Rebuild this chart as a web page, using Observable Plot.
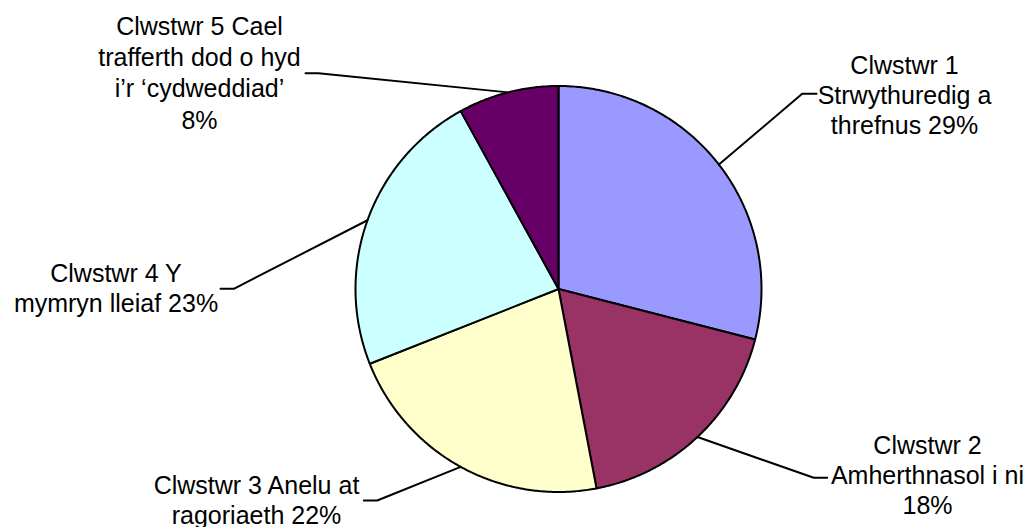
<!DOCTYPE html>
<html>
<head>
<meta charset="utf-8">
<script src="https://cdn.jsdelivr.net/npm/d3@7"></script>
<script src="https://cdn.jsdelivr.net/npm/@observablehq/plot@0.6"></script>
<style>
  body { margin: 0; background: #ffffff; }
  #chart svg { display: block; }
</style>
</head>
<body>
<div id="chart"></div>
<script>
// Cluster shares (percent), clockwise from 12 o'clock
const clusters = ["Clwstwr 1", "Clwstwr 2", "Clwstwr 3", "Clwstwr 4", "Clwstwr 5"];
const names = [
  "Clwstwr 1\nStrwythuredig a\nthrefnus",
  "Clwstwr 2\nAmherthnasol i ni",
  "Clwstwr 3 Anelu at\nragoriaeth",
  "Clwstwr 4 Y\nmymryn lleiaf",
  "Clwstwr 5 Cael\ntrafferth dod o hyd\ni’r ‘cydweddiad’"
];
const values = [29, 18, 22, 23, 8];
const colors = ["#9999FF", "#993366", "#FFFFCC", "#CCFFFF", "#660066"];

// Layout: pie centre and radius in pixels
const CX = 558, CY = 288.5, R = 203;
// How the percentage joins the name: same line or a new line
const pctJoin = [" ", "\n", " ", " ", "\n"];
// Label placement in radius units (x right, y up): leader elbow, leader end, text anchor (last baseline)
const elbow = [[1.2005, 0.9616], [1.2576, -0.930], [-0.8931, -1.0419], [-1.5995, 0.001], [-1.1823, 1.063]];
const tail  = [[1.271, 0.9616], [1.3236, -0.930], [-0.9591, -1.0419], [-1.665, 0.001], [-1.2463, 1.063]];
const textAt = [[1.7044, 0.7645], [1.8177, -1.1074], [-1.4877, -1.1567], [-2.1798, -0.1143], [-1.7685, 0.7906]];

const total = d3.sum(values);
let acc = 0;
const slices = values.map((v, i) => {
  const a0 = (acc / total) * 2 * Math.PI;
  acc += v;
  const a1 = (acc / total) * 2 * Math.PI;
  return {i, name: clusters[i], value: v, a0, a1, mid: (a0 + a1) / 2};
});

// Polygon outline of each wedge: centre -> arc -> centre
const wedgePts = slices.flatMap(s => {
  const steps = Math.max(2, Math.ceil((s.a1 - s.a0) / (Math.PI / 360)));
  const pts = [{name: s.name, x: 0, y: 0}];
  for (let k = 0; k <= steps; k++) {
    const a = s.a0 + (s.a1 - s.a0) * k / steps;
    pts.push({name: s.name, x: Math.sin(a), y: Math.cos(a)});
  }
  pts.push({name: s.name, x: 0, y: 0});
  return pts;
});

// Leader lines from the wedge's mid-arc to its label
const leaderPts = slices.flatMap(s => [
  {name: s.name, x: Math.sin(s.mid), y: Math.cos(s.mid)},
  {name: s.name, x: elbow[s.i][0], y: elbow[s.i][1]},
  {name: s.name, x: tail[s.i][0], y: tail[s.i][1]}
]);

const labelData = slices.map(s => ({
  i: s.i,
  x: textAt[s.i][0],
  y: textAt[s.i][1],
  text: names[s.i] + pctJoin[s.i] + s.value + "%"
}));

const textStyle = {
  x: "x", y: "y", text: "text",
  textAnchor: "middle", lineAnchor: "bottom",
  fontSize: 25, fill: "#000000", stroke: "none"
};

const chart = Plot.plot({
  width: 1029,
  height: 527,
  margin: 0,
  style: {fontFamily: "'Liberation Sans', Arial, sans-serif", background: "#ffffff", overflow: "visible"},
  x: {domain: [-1, 1], range: [CX - R, CX + R], axis: null},
  y: {domain: [-1, 1], range: [CY + R, CY - R], axis: null},
  color: {type: "ordinal", domain: clusters, range: colors},
  marks: [
    Plot.line(wedgePts, {x: "x", y: "y", z: "name", fill: "name", stroke: "#000000", strokeWidth: 2, strokeLinejoin: "round"}),
    Plot.line(leaderPts, {x: "x", y: "y", z: "name", stroke: "#000000", strokeWidth: 2}),
    Plot.text(labelData.filter(d => d.i !== 4), {...textStyle, lineHeight: 1.2}),
    Plot.text(labelData.filter(d => d.i === 4), {...textStyle, lineHeight: 1.25})
  ]
});

document.getElementById("chart").appendChild(chart);
</script>
</body>
</html>
